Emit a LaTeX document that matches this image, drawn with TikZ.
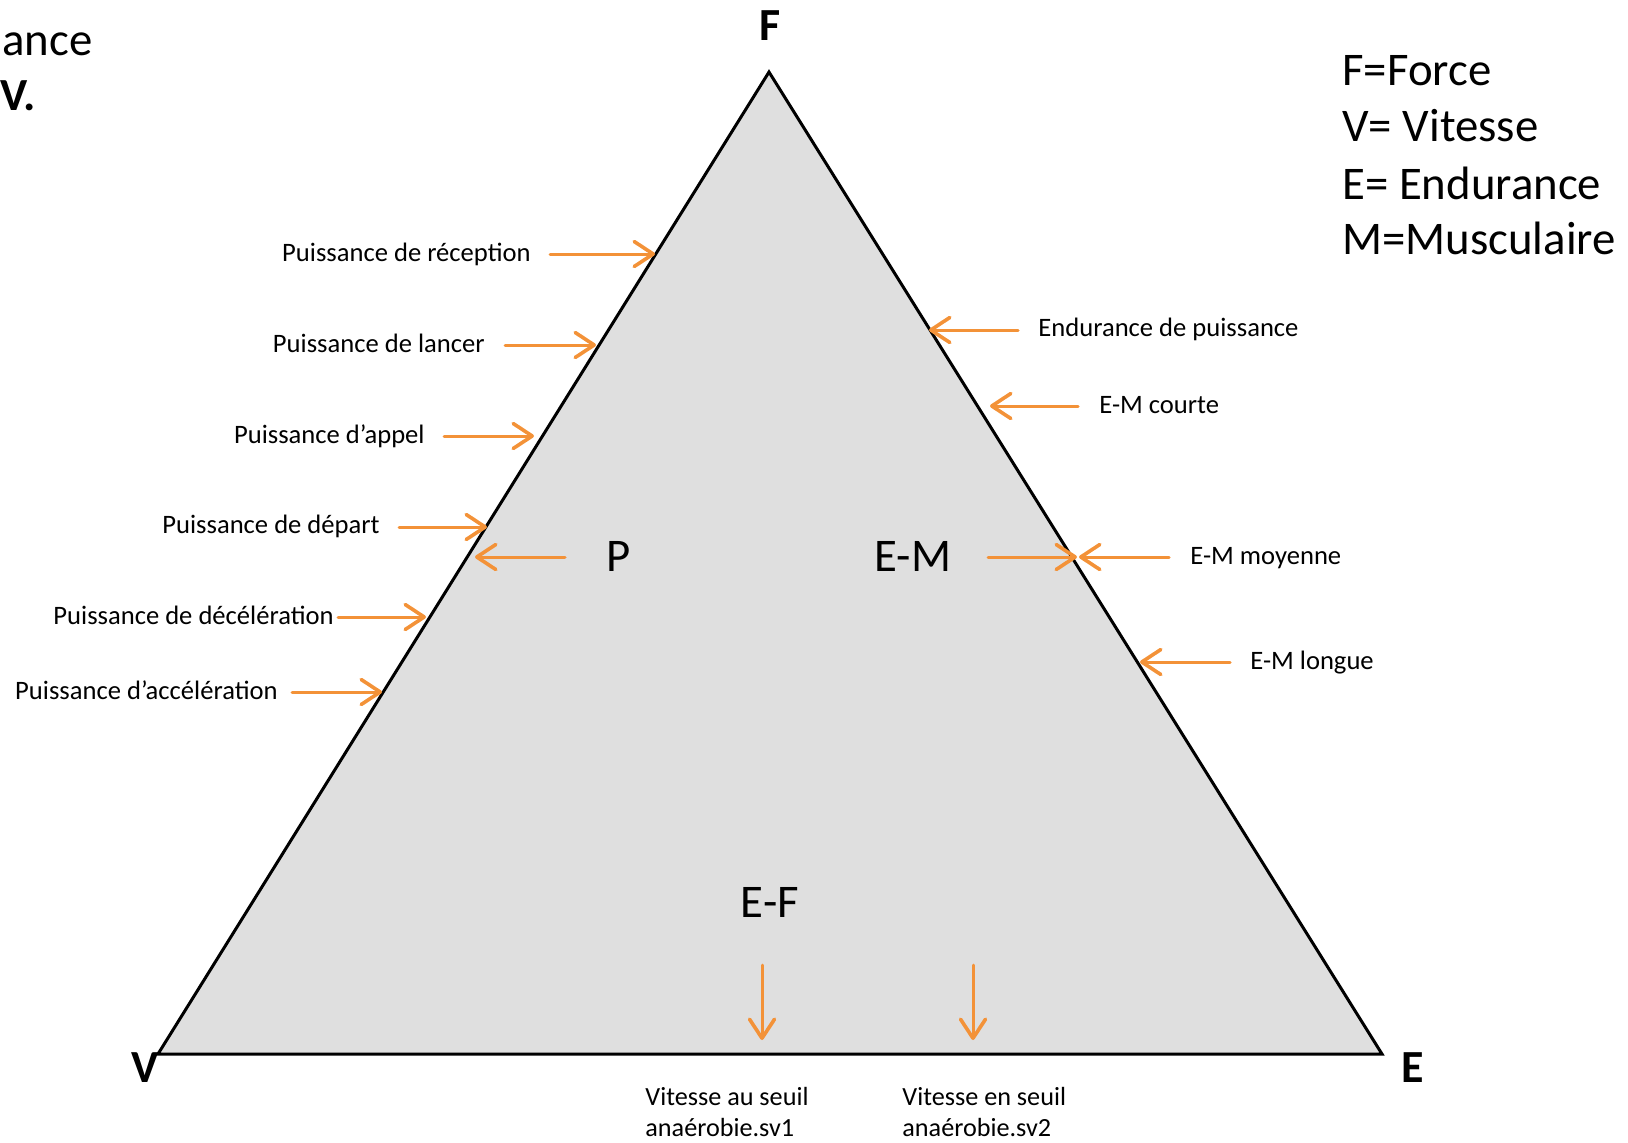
\documentclass[tikz,border=0pt]{standalone}
\usepackage{fontspec}
\setmainfont{Carlito}
\usetikzlibrary{arrows.meta}
\definecolor{orangearr}{RGB}{243,146,56}
\definecolor{trifill}{RGB}{223,223,223}
\begin{document}
\begin{tikzpicture}[x=0.5pt,y=-0.5pt,
  oarrow/.style={draw=orangearr, line width=1.5pt, line cap=round, -{Straight Barb[length=9.5pt,width=12.5pt,round,line width=1.8pt]}},
  small/.style={font=\fontsize{13.3}{16}\selectfont, inner sep=0pt},
  low/.style={font=\fontsize{13.1}{15.4}\selectfont, inner sep=0pt, align=left},
  big/.style={font=\fontsize{23.4}{28}\selectfont, inner sep=0pt},
  vtx/.style={font=\fontsize{23}{28}\selectfont\bfseries, inner sep=0pt}]
\useasboundingbox (0,0) rectangle (1628,1142);
% triangle
\coordinate (F) at (769,72);
\coordinate (V) at (158,1054);
\coordinate (E) at (1382,1054);
\fill[trifill] (F) -- (V) -- (E) -- cycle;
\draw[line width=1.5pt, line join=miter] (F) -- (V) -- (E) -- cycle;
% vertex labels
\node[vtx, anchor=base] (fl) at (770,40) {F};
\node[vtx, anchor=base] (vl) at (145,1082) {V};
\node[vtx, anchor=base] (el) at (1413,1082) {E};
% top-left fragment
\node[big, anchor=base east] (tl1) at (93,55) {ance};
\node[vtx, anchor=base east] (tl2) at (36,110) {V.};
% legend
\node[big, anchor=base west] (g1) at (1342,85) {F=Force};
\node[big, anchor=base west] (g2) at (1342,141) {V= Vitesse};
\node[big, anchor=base west] (g3) at (1342,199) {E= Endurance};
\node[big, anchor=base west] (g4) at (1342,254) {M=Musculaire};
% left labels
\node[small, anchor=mid east] (l1) at (531,257) {Puissance de réception};
\node[small, anchor=mid east] (l2) at (485,348) {Puissance de lancer};
\node[small, anchor=mid east] (l3) at (425,439) {Puissance d’appel};
\node[small, anchor=mid east] (l4) at (380,529) {Puissance de départ};
\node[small, anchor=mid east] (l5) at (334,620) {Puissance de décélération};
\node[small, anchor=mid east] (l6) at (278,695) {Puissance d’accélération};
\coordinate (a1s) at (550,254); \coordinate (a1t) at (655,254);
\coordinate (a2s) at (505,345); \coordinate (a2t) at (596,345);
\coordinate (a3s) at (444,436); \coordinate (a3t) at (534,436);
\coordinate (a4s) at (399,527); \coordinate (a4t) at (487,527);
\coordinate (a5s) at (338,617); \coordinate (a5t) at (426,617);
\coordinate (a6s) at (292,692); \coordinate (a6t) at (382,692);
\draw[oarrow] (a1s) -- (a1t);
\draw[oarrow] (a2s) -- (a2t);
\draw[oarrow] (a3s) -- (a3t);
\draw[oarrow] (a4s) -- (a4t);
\draw[oarrow] (a5s) -- (a5t);
\draw[oarrow] (a6s) -- (a6t);
% zone labels
\node[big] (P) at (619,556) {P};
\node[big] (EM) at (913,556) {E-M};
\node[big] (EF) at (770,902) {E-F};
\coordinate (pas) at (565,557); \coordinate (pat) at (475,557);
\draw[oarrow] (pas) -- (pat);
\coordinate (emas) at (988,557); \coordinate (emat) at (1077,557);
\draw[oarrow] (emas) -- (emat);
% right labels
\node[small, anchor=mid west] (r1) at (1038,332) {Endurance de puissance};
\node[small, anchor=mid west] (r2) at (1099,409) {E-M courte};
\node[small, anchor=mid west] (r3) at (1190,560) {E-M moyenne};
\node[small, anchor=mid west] (r4) at (1250,665) {E-M longue};
\coordinate (b1s) at (1018,330); \coordinate (b1t) at (929,330);
\coordinate (b2s) at (1078,406); \coordinate (b2t) at (990,406);
\coordinate (b3s) at (1169,557); \coordinate (b3t) at (1079,557);
\coordinate (b4s) at (1230,662); \coordinate (b4t) at (1140,662);
\draw[oarrow] (b1s) -- (b1t);
\draw[oarrow] (b2s) -- (b2t);
\draw[oarrow] (b3s) -- (b3t);
\draw[oarrow] (b4s) -- (b4t);
% bottom
\coordinate (c1s) at (762,965); \coordinate (c1t) at (762,1040);
\coordinate (c2s) at (973,965); \coordinate (c2t) at (973,1040);
\draw[oarrow] (c1s) -- (c1t);
\draw[oarrow] (c2s) -- (c2t);
\node[low, anchor=north west] (s1) at (645,1087) {Vitesse au seuil\\anaérobie.sv1};
\node[low, anchor=north west] (s2) at (902,1087) {Vitesse en seuil\\anaérobie.sv2};
\end{tikzpicture}
\end{document}
